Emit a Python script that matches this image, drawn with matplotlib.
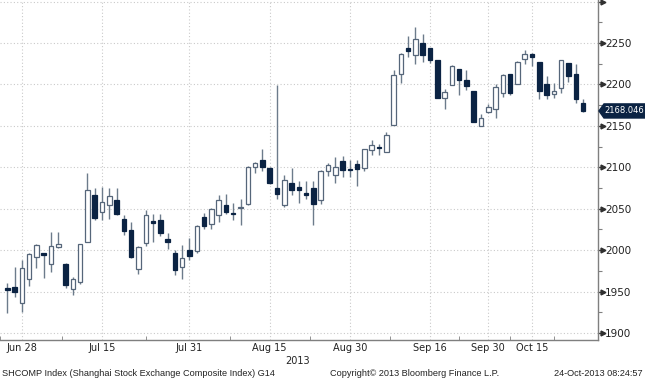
import numpy as np
import matplotlib
matplotlib.use('Agg')
import matplotlib.pyplot as plt
from matplotlib.patches import Polygon
from matplotlib.transforms import blended_transform_factory

# 上证综指日K线 (2013-06-26 ~ 2013-10-24), 按交易日排列
opens = [1954, 1955, 1936, 1965, 1992, 1996, 1983, 2004, 1983, 1953,
         1961, 2010, 2067, 2046, 2054, 2060, 2037, 2024, 1977, 2009,
         2035, 2036, 2013, 1997, 1980, 2000, 1999, 2040, 2031, 2043,
         2055, 2045, 2051, 2056, 2100, 2109, 2099, 2075, 2054, 2081,
         2076, 2069, 2075, 2060, 2095, 2091, 2108, 2098, 2104, 2099,
         2121, 2125, 2118, 2151, 2213, 2244, 2235, 2250, 2244, 2230,
         2184, 2199, 2219, 2205, 2192, 2150, 2167, 2171, 2190, 2213,
         2200, 2231, 2237, 2227, 2200, 2188, 2196, 2226, 2213, 2178]
highs = [1960, 1980, 1988, 1996, 2007, 1996, 2022, 2022, 1984, 1968,
         2008, 2093, 2075, 2076, 2075, 2075, 2043, 2034, 2005, 2049,
         2044, 2044, 2021, 2000, 2006, 2015, 2030, 2045, 2051, 2066,
         2068, 2057, 2062, 2101, 2106, 2122, 2100, 2199, 2091, 2099,
         2084, 2083, 2083, 2097, 2105, 2113, 2114, 2109, 2109, 2122,
         2133, 2128, 2143, 2218, 2238, 2258, 2270, 2261, 2244, 2230,
         2195, 2223, 2219, 2217, 2192, 2164, 2177, 2200, 2213, 2213,
         2228, 2242, 2238, 2227, 2210, 2202, 2229, 2226, 2225, 2183]
lows = [1924, 1943, 1925, 1957, 1978, 1966, 1973, 2002, 1954, 1946,
        1959, 2010, 2036, 2036, 2038, 2042, 2018, 1990, 1971, 2005,
        2010, 2017, 2001, 1970, 1965, 1988, 1996, 2026, 2025, 2034,
        2044, 2036, 2030, 2054, 2093, 2095, 2080, 2062, 2052, 2066,
        2057, 2062, 2030, 2056, 2089, 2081, 2088, 2088, 2078, 2095,
        2115, 2115, 2118, 2151, 2202, 2233, 2225, 2227, 2226, 2184,
        2171, 2199, 2187, 2193, 2155, 2150, 2165, 2160, 2185, 2187,
        2200, 2225, 2222, 2183, 2183, 2184, 2190, 2203, 2178, 2167]
closes = [1952, 1950, 1979, 1995, 2006, 1994, 2005, 2007, 1958, 1965,
          2008, 2072, 2039, 2058, 2065, 2044, 2023, 1992, 2004, 2043,
          2033, 2021, 2010, 1976, 1990, 1993, 2029, 2029, 2050, 2060,
          2046, 2044, 2052, 2100, 2105, 2100, 2081, 2068, 2085, 2073,
          2073, 2066, 2056, 2096, 2103, 2100, 2097, 2097, 2098, 2122,
          2127, 2123, 2139, 2211, 2237, 2240, 2255, 2235, 2230, 2184,
          2191, 2222, 2206, 2198, 2155, 2159, 2173, 2197, 2211, 2190,
          2227, 2237, 2233, 2192, 2187, 2192, 2229, 2210, 2182, 2168.046]

tick_idx = [2, 13, 25, 36, 47, 58, 66, 72]
tick_labels = ['Jun 28', 'Jul 15', 'Jul 31', 'Aug 15', 'Aug 30', 'Sep 16', 'Sep 30', 'Oct 15']
y_ticks = [1900, 1950, 2000, 2050, 2100, 2150, 2200, 2250, 2300]
last_price = 2168.046

navy = '#0b2343'
wick_c = '#6c7b8b'
edge_up = '#56667a'
grid_c = '#cacaca'
axis_c = '#7f7f7f'
txt_c = '#222222'

plt.rcParams['font.family'] = ['DejaVu Sans']
fig = plt.figure(figsize=(6.45, 3.8), dpi=100)
ax = fig.add_axes([0, 40 / 380, 598 / 645, 340 / 380])

o = np.array(opens, dtype=float)
h = np.array(highs, dtype=float)
l = np.array(lows, dtype=float)
c = np.array(closes, dtype=float)
x = np.arange(len(o))
up = c >= o

ax.vlines(x, l, h, color=wick_c, lw=1.0, zorder=2)
ax.bar(x[up], (c - o)[up], bottom=o[up], width=0.62, color='white',
       edgecolor=edge_up, lw=0.9, zorder=3)
ax.bar(x[~up], (o - c)[~up], bottom=c[~up], width=0.62, color=navy,
       edgecolor=navy, lw=0.9, zorder=3)

ax.set_xlim(-0.31, 81.05)
ax.set_ylim(1891.5, 2302)

# 坐标轴: 右侧价格轴
for s in ['left', 'top']:
    ax.spines[s].set_visible(False)
for s in ['right', 'bottom']:
    ax.spines[s].set_color(axis_c)
    ax.spines[s].set_linewidth(1.0)

ax.yaxis.tick_right()
ax.set_yticks(y_ticks)
ax.set_yticklabels([str(v) if v < 2300 else '' for v in y_ticks])
ax.set_yticks(np.arange(1925, 2300, 50), minor=True)
ax.tick_params(axis='y', which='major', direction='out', length=4, width=1,
               color='#404040', labelsize=7.5, pad=1, labelcolor=txt_c)
ax.tick_params(axis='y', which='minor', direction='out', length=3, width=0.8,
               color='#808080')
ytr = ax.get_yaxis_transform()
ax.plot(np.full(len(y_ticks), 1.0 + 5 / 598), y_ticks, linestyle='none',
        marker='>', ms=3.5, color='#303030', transform=ytr, clip_on=False)

ax.set_xticks(tick_idx)
ax.set_xticklabels(tick_labels)
mids = [(a + b) / 2 for a, b in zip([-4] + tick_idx, tick_idx + [78])]
ax.set_xticks(mids, minor=True)
ax.tick_params(axis='x', which='major', direction='out', length=0,
               labelsize=7, pad=2, labelcolor=txt_c)
ax.tick_params(axis='x', which='minor', direction='in', length=3,
               color='#808080')

ax.grid(True, which='major', color=grid_c, linestyle=(0, (1, 2)), lw=0.8)
ax.set_axisbelow(True)

# 最新价标签
tr = blended_transform_factory(ax.transAxes, ax.transData)
k = 1 / 598
pts = [(1 + 1 * k, last_price), (1 + 6 * k, last_price + 8.5),
       (1 + 47 * k, last_price + 8.5), (1 + 47 * k, last_price - 8.5),
       (1 + 6 * k, last_price - 8.5)]
ax.add_patch(Polygon(pts, closed=True, transform=tr, color=navy,
                     clip_on=False, zorder=5))
ax.text(1 + 6 * k, last_price, f'{last_price:.3f}', transform=tr,
        color='white', fontsize=6.0, va='center', ha='left', zorder=6)

fig.text(298 / 645, 1 - 361 / 380, '2013', fontsize=7, color=txt_c,
         ha='center', va='center')
foot = dict(fontsize=6.6, color=txt_c, va='center', family=['Liberation Sans'])
fig.text(2 / 645, 1 - 373 / 380,
         'SHCOMP Index (Shanghai Stock Exchange Composite Index) G14',
         ha='left', **foot)
fig.text(330 / 645, 1 - 373 / 380, 'Copyright© 2013 Bloomberg Finance L.P.',
         ha='left', **foot)
fig.text(643 / 645, 1 - 373 / 380, '24-Oct-2013 08:24:57',
         ha='right', **foot)

fig.savefig('out.png', dpi=100)
